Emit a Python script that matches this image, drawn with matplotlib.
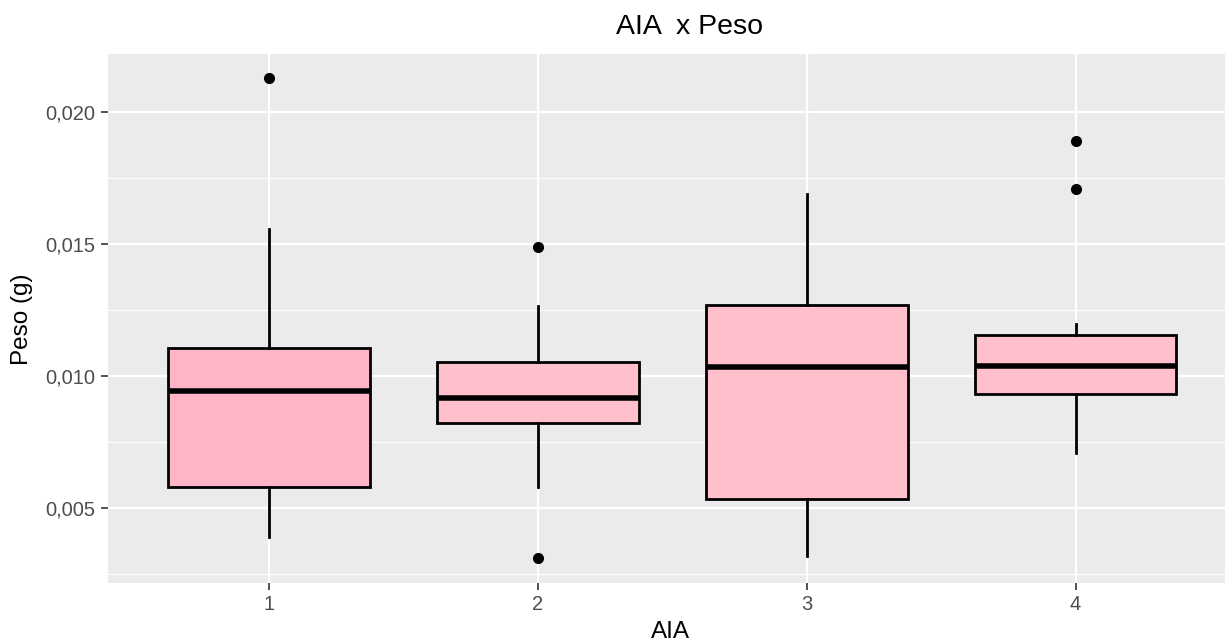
import matplotlib.pyplot as plt

plt.rcParams['font.family'] = ['Liberation Sans', 'DejaVu Sans']

# five-number summaries per AIA group
groups = ['1', '2', '3', '4']
whislo = [0.00389, 0.00581, 0.00319, 0.00709]
q1 = [0.00581, 0.00823, 0.00533, 0.00932]
med = [0.00943, 0.00918, 0.01035, 0.01039]
q3 = [0.01105, 0.01053, 0.01268, 0.01154]
whishi = [0.01556, 0.01265, 0.01688, 0.01197]
outliers = [[0.02131], [0.01489, 0.00309], [], [0.01890, 0.01708]]
fills = ['#FFB5C5', '#FFC0CB', '#FFC0CB', '#FFC0CB']

yticks = [0.005, 0.010, 0.015, 0.020]
ytick_labels = ['0,005', '0,010', '0,015', '0,020']

stats = []
for i, g in enumerate(groups):
    stats.append(dict(label=g, whislo=whislo[i], q1=q1[i], med=med[i],
                      q3=q3[i], whishi=whishi[i], fliers=outliers[i]))

fig = plt.figure(figsize=(12.25, 6.44), dpi=100)
ax = fig.add_axes([0.0879, 0.0952, 0.9218, 0.8209])
ax.set_facecolor('#EBEBEB')

bp = ax.bxp(stats, positions=range(1, 5), widths=0.75, patch_artist=True,
            showcaps=False,
            boxprops=dict(edgecolor='black', linewidth=2.0),
            medianprops=dict(color='black', linewidth=4.0, solid_capstyle='butt'),
            whiskerprops=dict(color='black', linewidth=2.0),
            flierprops=dict(marker='o', markerfacecolor='black',
                            markeredgecolor='black', markersize=7))
for patch, c in zip(bp['boxes'], fills):
    patch.set_facecolor(c)

ax.set_xlim(0.4, 4.6)
ax.set_ylim(0.00217, 0.02220)
ax.set_yticks(yticks)
ax.set_yticklabels(ytick_labels)
ax.set_yticks([0.0025, 0.0075, 0.0125, 0.0175], minor=True)

ax.grid(True, which='major', color='white', linewidth=1.6)
ax.grid(True, which='minor', axis='y', color='white', linewidth=0.8)
ax.set_axisbelow(True)
for s in ax.spines.values():
    s.set_visible(False)

ax.tick_params(axis='both', which='major', length=5, width=1.2, color='#333333',
               labelcolor='#4D4D4D', labelsize=14.5, pad=4)
ax.tick_params(axis='y', which='minor', length=0)

fig.text(0.563, 0.958, 'AIA  x Peso', ha='center', va='center', fontsize=20.5)
fig.text(0.547, 0.018, 'AIA', ha='center', va='center', fontsize=17.5)
fig.text(0.018, 0.505, 'Peso (g)', ha='center', va='center', rotation=90, fontsize=17.5)

fig.savefig('out.png', dpi=100)
